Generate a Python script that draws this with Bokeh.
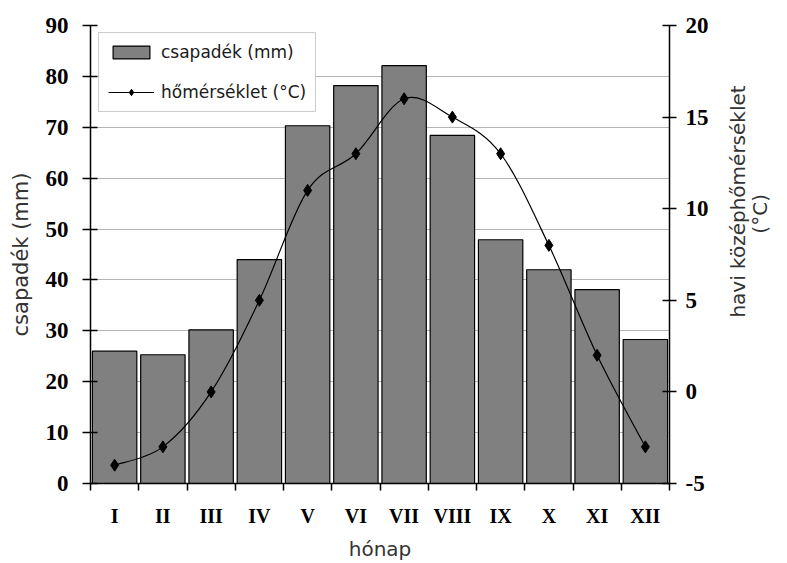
import math
from bokeh.plotting import figure
from bokeh.models import (Range1d, LinearAxis, FixedTicker, Legend, LegendItem,
                          ColumnDataSource)
from bokeh.embed import file_html
from bokeh.resources import INLINE

# ---- data ----
months = ["I", "II", "III", "IV", "V", "VI", "VII", "VIII", "IX", "X", "XI", "XII"]
precip_mm = [26, 25.3, 30.2, 44, 70.3, 78.2, 82.1, 68.4, 47.9, 42, 38.1, 28.3]
temp_c = [-4, -3, 0, 5, 11, 13, 16, 15, 13, 8, 2, -3]
left_ticks = [0, 10, 20, 30, 40, 50, 60, 70, 80, 90]
right_ticks = [-5, 0, 5, 10, 15, 20]

xpos = list(range(1, len(months) + 1))
bounds = [i + 0.5 for i in range(0, len(months) + 1)]

W, H = 787, 563
p = figure(width=W, height=H, output_backend="svg", toolbar_location=None,
           x_range=Range1d(0.5, len(months) + 0.5), y_range=Range1d(0, 90),
           min_border_left=90, min_border_right=W - 669, min_border_top=25,
           min_border_bottom=H - 483)
p.outline_line_color = None
p.background_fill_color = "white"
p.border_fill_color = "white"
p.extra_y_ranges = {"temp": Range1d(-5, 20)}

TICK_FONT = "Liberation Serif"
TITLE_FONT = "DejaVu Sans"
TITLE_COLOR = "#333333"

# x axis
xa = p.xaxis[0]
xa.ticker = FixedTicker(ticks=xpos, minor_ticks=bounds)
xa.major_label_overrides = {x: m for x, m in zip(xpos, months)}
xa.major_tick_out = 0
xa.major_tick_in = 0
xa.minor_tick_out = 7
xa.minor_tick_in = 0
xa.minor_tick_line_color = "black"
xa.minor_tick_line_width = 1.5
xa.axis_line_color = "black"
xa.axis_line_width = 1.5
xa.major_label_standoff = 14
xa.major_label_text_font = TICK_FONT
xa.major_label_text_font_style = "bold"
xa.major_label_text_font_size = "20px"
xa.major_label_text_color = "black"
xa.axis_label = "hónap"
xa.axis_label_standoff = 7
xa.axis_label_text_font = TITLE_FONT
xa.axis_label_text_font_style = "normal"
xa.axis_label_text_font_size = "20px"
xa.axis_label_text_line_height = 1.0
xa.axis_label_text_color = TITLE_COLOR

# left axis
ya = p.yaxis[0]
ya.ticker = FixedTicker(ticks=left_ticks)
ya.minor_tick_line_color = None
ya.major_tick_out = 8
ya.major_tick_in = 7
ya.major_tick_line_width = 1.5
ya.axis_line_width = 1.5
ya.axis_line_color = "black"
ya.major_label_standoff = 14
ya.major_label_text_font = TICK_FONT
ya.major_label_text_font_style = "bold"
ya.major_label_text_font_size = "23px"
ya.major_label_text_color = "black"
ya.axis_label = "csapadék (mm)"
ya.axis_label_standoff = 10
ya.axis_label_text_font = TITLE_FONT
ya.axis_label_text_font_style = "normal"
ya.axis_label_text_font_size = "21px"
ya.axis_label_text_color = TITLE_COLOR

# right axis (temperature)
ra = LinearAxis(y_range_name="temp", ticker=FixedTicker(ticks=right_ticks))
ra.major_label_overrides = {-5: "-5"}
ra.minor_tick_line_color = None
ra.major_tick_out = 7
ra.major_tick_in = 7
ra.major_tick_line_width = 1.5
ra.axis_line_width = 1.5
ra.axis_line_color = "black"
ra.major_label_standoff = 9
ra.major_label_text_font = TICK_FONT
ra.major_label_text_font_style = "bold"
ra.major_label_text_font_size = "23px"
ra.major_label_text_color = "black"
p.add_layout(ra, "right")

# right-hand title, two lines, each as a rotated label of a bare helper axis
def title_axis(text, at, standoff):
    ax = LinearAxis(ticker=FixedTicker(ticks=[at]))
    ax.major_label_overrides = {at: text}
    ax.major_label_orientation = math.pi / 2
    ax.major_label_standoff = standoff
    ax.major_tick_in = 0
    ax.major_tick_out = 0
    ax.major_tick_line_color = None
    ax.minor_tick_line_color = None
    ax.axis_line_color = None
    ax.major_label_text_font = TITLE_FONT
    ax.major_label_text_font_size = "20px"
    ax.major_label_text_color = TITLE_COLOR
    return ax

p.add_layout(title_axis("havi középhőmérséklet", 32.6, 27), "right")
p.add_layout(title_axis("(°C)", 49.1, -5), "right")

p.xgrid.grid_line_color = None
p.ygrid.grid_line_color = "#b4b4b4"
p.ygrid.grid_line_width = 1.2

# bars
src = ColumnDataSource(dict(x=xpos, top=precip_mm, m=months))
bars = p.vbar(x="x", top="top", width=0.92, bottom=0, source=src,
              fill_color="#808080", line_color="black", line_width=1.2)

# smoothed temperature line (cubic bezier through the data points)
n = len(temp_c)
x0, y0, x1, y1, cx0, cy0, cx1, cy1 = [], [], [], [], [], [], [], []
for i in range(n - 1):
    pm = (xpos[max(i - 1, 0)], temp_c[max(i - 1, 0)])
    pa = (xpos[i], temp_c[i])
    pb = (xpos[i + 1], temp_c[i + 1])
    pn = (xpos[min(i + 2, n - 1)], temp_c[min(i + 2, n - 1)])
    x0.append(pa[0]); y0.append(pa[1]); x1.append(pb[0]); y1.append(pb[1])
    cx0.append(pa[0] + (pb[0] - pm[0]) / 6.0)
    cy0.append(pa[1] + (pb[1] - pm[1]) / 6.0)
    cx1.append(pb[0] - (pn[0] - pa[0]) / 6.0)
    cy1.append(pb[1] - (pn[1] - pa[1]) / 6.0)
bz = p.bezier(x0=x0, y0=y0, x1=x1, y1=y1, cx0=cx0, cy0=cy0, cx1=cx1, cy1=cy1,
              y_range_name="temp", line_color="black", line_width=1.2)
pts = p.scatter(x=xpos, y=temp_c, y_range_name="temp", marker="diamond",
                size=12, fill_color="black", line_color="black")

legend = Legend(items=[LegendItem(label="csapadék (mm)", renderers=[bars]),
                       LegendItem(label="hőmérséklet (°C)", renderers=[bz, pts])],
                location=(8, 371))
legend.label_text_font = TITLE_FONT
legend.label_text_font_size = "17px"
legend.label_text_color = "#1a1a1a"
legend.glyph_width = 46
legend.glyph_height = 16
legend.label_standoff = 7
legend.label_height = 19
legend.spacing = 20
legend.padding = 9
legend.margin = 0
legend.border_line_color = "#999999"
legend.border_line_width = 1.5
legend.background_fill_color = "white"
legend.background_fill_alpha = 1
p.add_layout(legend, "center")

open("out.html", "w").write(file_html(p, INLINE))
